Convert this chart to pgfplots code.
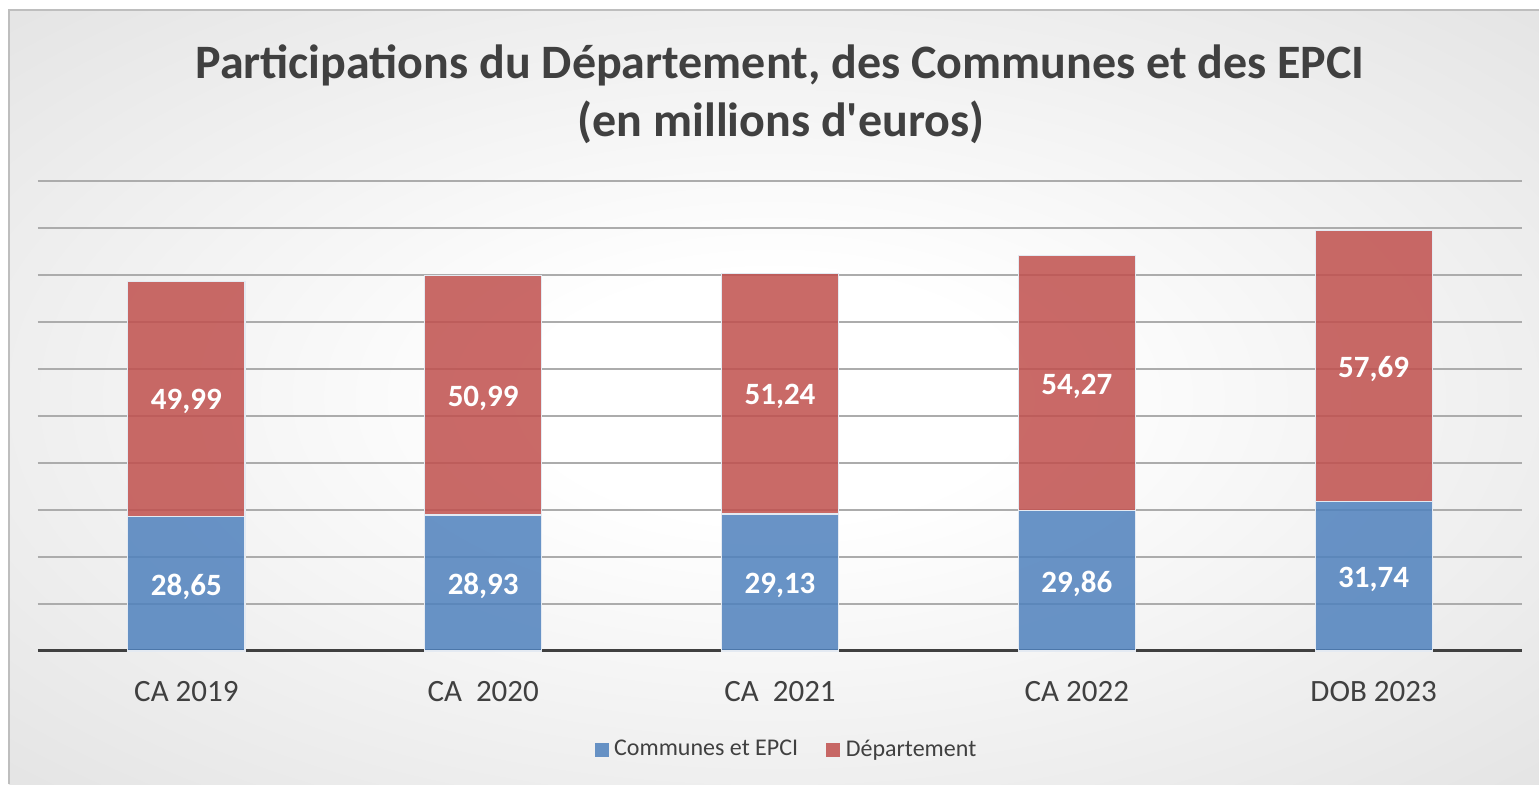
\documentclass[border=0pt]{standalone}
\usepackage{pgfplots}
\pgfplotsset{compat=1.18}
\usepackage{pgfplotstable}
\usepackage{fontspec}
\setmainfont{Carlito}
\definecolor{cblue}{RGB}{79,129,189}
\definecolor{cred}{RGB}{192,80,77}
\definecolor{ctext}{RGB}{64,64,64}
\definecolor{cgrid}{RGB}{172,172,172}
\definecolor{cedge}{RGB}{194,194,194}
\definecolor{cframe}{RGB}{190,190,190}
\definecolor{cbarline}{RGB}{228,234,242}
\pgfdeclareradialshading{bgshade}{\pgfpoint{0bp}{0bp}}{color(0bp)=(white); color(8bp)=(white); color(71bp)=(cedge)}

\pgfplotstableread{
x blue red
0 28.65 49.99
1 28.93 50.99
2 29.13 51.24
3 29.86 54.27
4 31.74 57.69
}\data

\begin{document}
\begin{tikzpicture}
\useasboundingbox (-19pt,-66.5pt) rectangle (750.5pt,325.5pt);
\fill[white] (-19pt,-66.5pt) rectangle (750.5pt,325.5pt);
\shade[shading=bgshade] (-14.5pt,-66.5pt) rectangle (750.5pt,320.5pt);
\draw[cframe, line width=0.75pt] (-14.5pt,-66.5pt) -- (-14.5pt,320.5pt) -- (750.5pt,320.5pt);
\node[font=\fontsize{24}{29}\selectfont\bfseries, text=ctext] at (371pt,293pt) {Participations du Département, des Communes et des EPCI};
\node[font=\fontsize{24}{29}\selectfont\bfseries, text=ctext] at (371.5pt,264.5pt) {(en millions d\textquotesingle euros)};

\begin{axis}[
  anchor=south west, at={(0pt,0pt)},
  scale only axis, width=742pt, height=235pt,
  ybar stacked, bar width=58.5pt,
  xmin=-0.5, xmax=4.5, ymin=0, ymax=100,
  xtick=data,
  xticklabels={CA 2019, CA\ \ 2020, CA\ \ 2021, CA 2022, DOB 2023},
  x tick label style={anchor=base, yshift=-25pt, font=\fontsize{15.5}{18}\selectfont, text=ctext},
  ytick={0,10,...,100}, yticklabels={},
  ymajorgrids, grid style={cgrid, line width=0.7pt},
  axis line style={draw=none},
  tick style={draw=none},
  legend style={at={(0.505,-0.21)}, anchor=center, legend columns=2, draw=none, fill=none,
    font=\fontsize{12}{14}\selectfont, text=ctext,
    /tikz/every even column/.append style={column sep=12pt}},
  legend image code/.code={\draw[#1, draw=none] (0pt,-3.5pt) rectangle (7pt,3.5pt); \path (7.5pt,0pt);},
]
\addplot[fill=cblue, fill opacity=0.85, draw=cbarline, line width=0.6pt] table[x=x, y=blue] {\data};
\addplot[fill=cred, fill opacity=0.85, draw=cbarline, line width=0.6pt] table[x=x, y=red] {\data};
\legend{Communes et EPCI, Département}
\draw[ctext, line width=2pt] (rel axis cs:0,0) -- (rel axis cs:1,0);
\end{axis}

\begin{axis}[
  anchor=south west, at={(0pt,0pt)},
  scale only axis, width=742pt, height=235pt,
  xmin=-0.5, xmax=4.5, ymin=0, ymax=100,
  hide axis,
  nodes near coords={\pgfmathprintnumber[use comma, fixed, fixed zerofill, precision=2, assume math mode=true]{\pgfplotspointmeta}},
  every node near coord/.append style={anchor=center, yshift=-1.5pt, font=\fontsize{15.5}{18}\selectfont\bfseries, text=white},
]
\addplot[draw=none, only marks, mark=none, point meta=explicit] table[x=x, y expr=\thisrow{blue}/2, meta=blue] {\data};
\addplot[draw=none, only marks, mark=none, point meta=explicit] table[x=x, y expr=\thisrow{blue}+\thisrow{red}/2, meta=red] {\data};
\end{axis}
\end{tikzpicture}
\end{document}
